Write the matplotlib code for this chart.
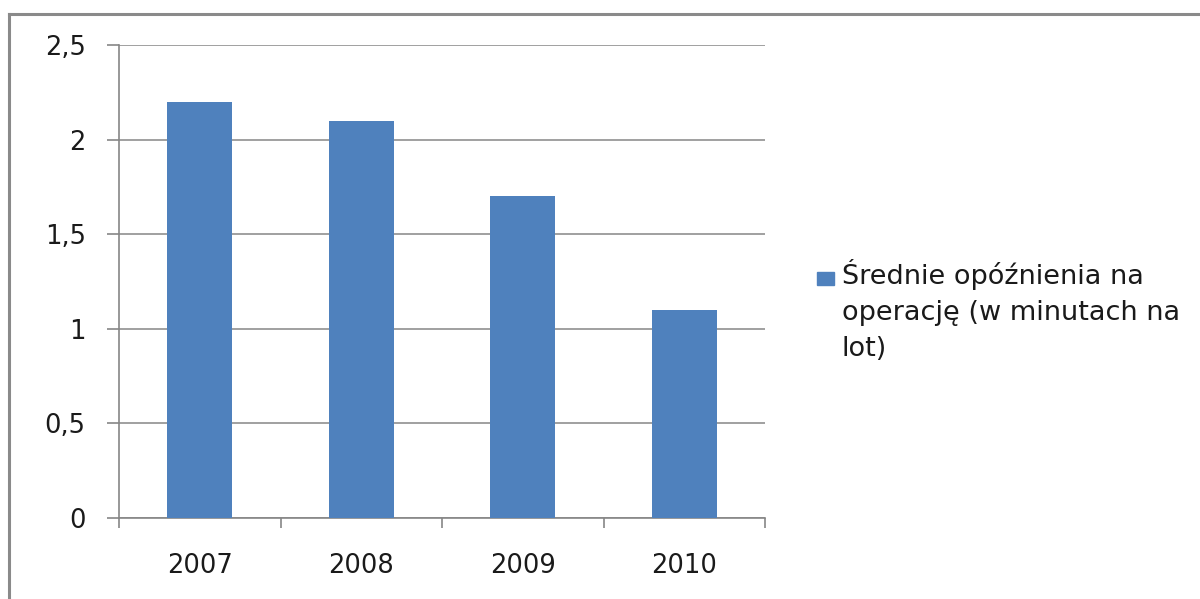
import matplotlib.pyplot as plt
from matplotlib.lines import Line2D
from matplotlib.patches import Rectangle

years = ["2007", "2008", "2009", "2010"]
delays = [2.2, 2.1, 1.7, 1.1]
series_label = "Średnie opóźnienia na\noperację (w minutach na\nlot)"
yticks = [0, 0.5, 1, 1.5, 2, 2.5]
ytick_labels = ["0", "0,5", "1", "1,5", "2", "2,5"]

plt.rcParams['font.family'] = ['DejaVu Sans']
W, H = 1200, 599
fig = plt.figure(figsize=(W / 100, H / 100), dpi=100)
ax = fig.add_axes([119 / W, (H - 518) / H, (765 - 119) / W, (518 - 45) / H])

bar_color = "#4f81bd"
axis_color = "#868686"
text_color = "#1a1a1a"
fs = 18.5
x = range(len(years))
ax.bar(x, delays, width=0.4, color=bar_color, zorder=3)

ax.set_xlim(-0.5, len(years) - 0.5)
ax.set_ylim(0, 2.5)
ax.set_yticks(yticks)
ax.set_yticklabels(ytick_labels, fontsize=fs, color=text_color)
ax.set_xticks(list(x))
ax.set_xticklabels(years, fontsize=fs, color=text_color)
ax.set_xticks([i - 0.5 for i in range(len(years) + 1)], minor=True)
ax.tick_params(axis="x", which="major", length=0, pad=25)
ax.tick_params(axis="x", which="minor", length=7, width=1.2, color=axis_color, direction="out")
ax.tick_params(axis="y", length=9, width=1.2, color=axis_color, direction="out", pad=15)

ax.grid(axis="y", color=axis_color, linewidth=1.1, zorder=0)
for side in ["top", "right"]:
    ax.spines[side].set_visible(False)
for side in ["left", "bottom"]:
    ax.spines[side].set_color(axis_color)
    ax.spines[side].set_linewidth(1.2)

# legend drawn by hand so the marker sits on the first line
fig.patches.append(Rectangle((817 / W, (H - 285) / H), 17 / W, 13 / H,
                             transform=fig.transFigure, color=bar_color))
fig.text(842 / W, (H - 356) / H, series_label, fontsize=19.5, color=text_color,
         va="baseline", ha="left", linespacing=1.5)

# outer frame
fig.add_artist(Line2D([9 / W, 1], [(H - 14) / H] * 2, color="#8a8a8a", linewidth=2.2))
fig.add_artist(Line2D([9 / W] * 2, [0, (H - 14) / H], color="#8a8a8a", linewidth=2.2))

fig.savefig("out.png", dpi=100)
